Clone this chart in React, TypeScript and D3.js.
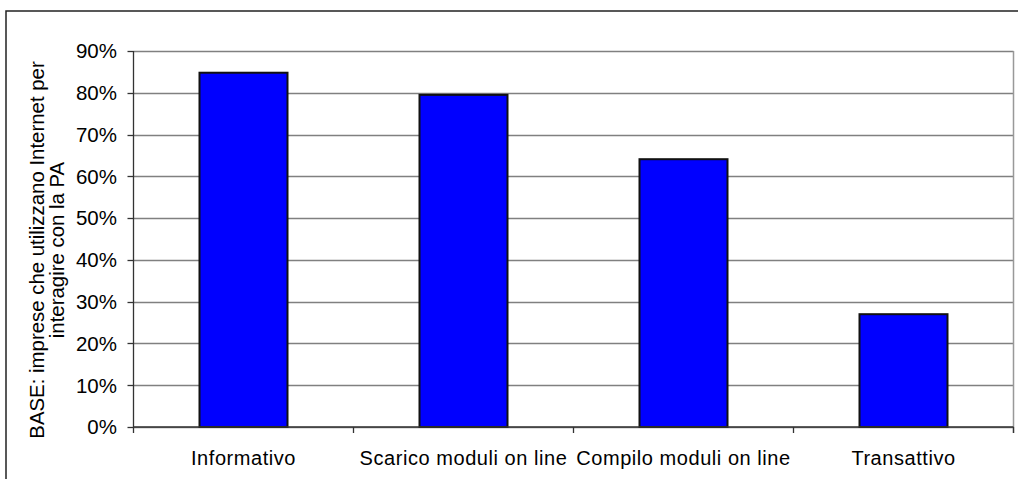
import React from "react";
import * as d3 from "d3";

const categories = ["Informativo", "Scarico moduli on line", "Compilo moduli on line", "Transattivo"];
const values = [84.8, 79.5, 64.1, 27.0];
const yTicks = [0, 10, 20, 30, 40, 50, 60, 70, 80, 90];
const titleLines = ["BASE: imprese che utilizzano Internet per", "interagire con la PA"];

const W = 1018;
const H = 479;
const plot = { left: 133.5, right: 1013.5, top: 51, bottom: 427 };
const FONT = "'Liberation Sans', Arial, sans-serif";

export default function App() {
  const x = d3
    .scaleBand<string>()
    .domain(categories)
    .range([plot.left, plot.right])
    .paddingInner(0.6)
    .paddingOuter(0.3);
  const band = (plot.right - plot.left) / categories.length;
  const y = d3.scaleLinear().domain([0, 90]).range([plot.bottom, plot.top]);

  return (
    <svg
      width={W}
      height={H}
      style={{ position: "absolute", left: 0, top: 0, background: "#fff" }}
      fontFamily={FONT}
    >
      {/* chart frame */}
      <rect x={6} y={11} width={W + 20} height={H + 20} fill="#fff" stroke="#222" strokeWidth={1.5} />

      {/* gridlines */}
      {yTicks.map((t) => (
        <line
          key={"g" + t}
          x1={plot.left}
          x2={plot.right}
          y1={Math.round(y(t)) + 0.5}
          y2={Math.round(y(t)) + 0.5}
          stroke="#808080"
          strokeWidth={1.3}
        />
      ))}
      {/* plot right edge */}
      <line x1={plot.right} x2={plot.right} y1={plot.top} y2={plot.bottom + 6} stroke="#999" strokeWidth={1.5} />

      {/* bars */}
      {categories.map((c, i) => (
        <rect
          key={c}
          x={x(c)}
          y={y(values[i])}
          width={x.bandwidth()}
          height={y(0) - y(values[i])}
          fill="#0000FF"
          stroke="#111"
          strokeWidth={2}
        />
      ))}

      {/* y axis */}
      <line x1={plot.left} x2={plot.left} y1={plot.top} y2={plot.bottom} stroke="#333" strokeWidth={1.3} />
      {yTicks.map((t) => (
        <g key={"t" + t}>
          <line
            x1={plot.left - 6}
            x2={plot.left}
            y1={Math.round(y(t)) + 0.5}
            y2={Math.round(y(t)) + 0.5}
            stroke="#333"
            strokeWidth={1.3}
          />
          <text x={117} y={y(t)} dy="0.36em" textAnchor="end" fontSize={20.5} fill="#000">
            {t + "%"}
          </text>
        </g>
      ))}

      {/* x axis */}
      <line x1={plot.left} x2={plot.right} y1={plot.bottom} y2={plot.bottom} stroke="#333" strokeWidth={1.3} />
      {d3.range(categories.length + 1).map((i) => (
        <line
          key={"xt" + i}
          x1={plot.left + i * band}
          x2={plot.left + i * band}
          y1={plot.bottom}
          y2={plot.bottom + 6}
          stroke="#333"
          strokeWidth={1.3}
        />
      ))}
      {categories.map((c) => (
        <text
          key={"l" + c}
          x={(x(c) as number) + x.bandwidth() / 2}
          y={465}
          textAnchor="middle"
          fontSize={20}
          letterSpacing={0.55}
          fill="#000"
        >
          {c}
        </text>
      ))}

      {/* axis title */}
      <g transform="translate(44,250) rotate(-90)">
        {titleLines.map((l, i) => (
          <text key={l} x={0} y={i * 20} textAnchor="middle" fontSize={20.4} fill="#000">
            {l}
          </text>
        ))}
      </g>
    </svg>
  );
}
